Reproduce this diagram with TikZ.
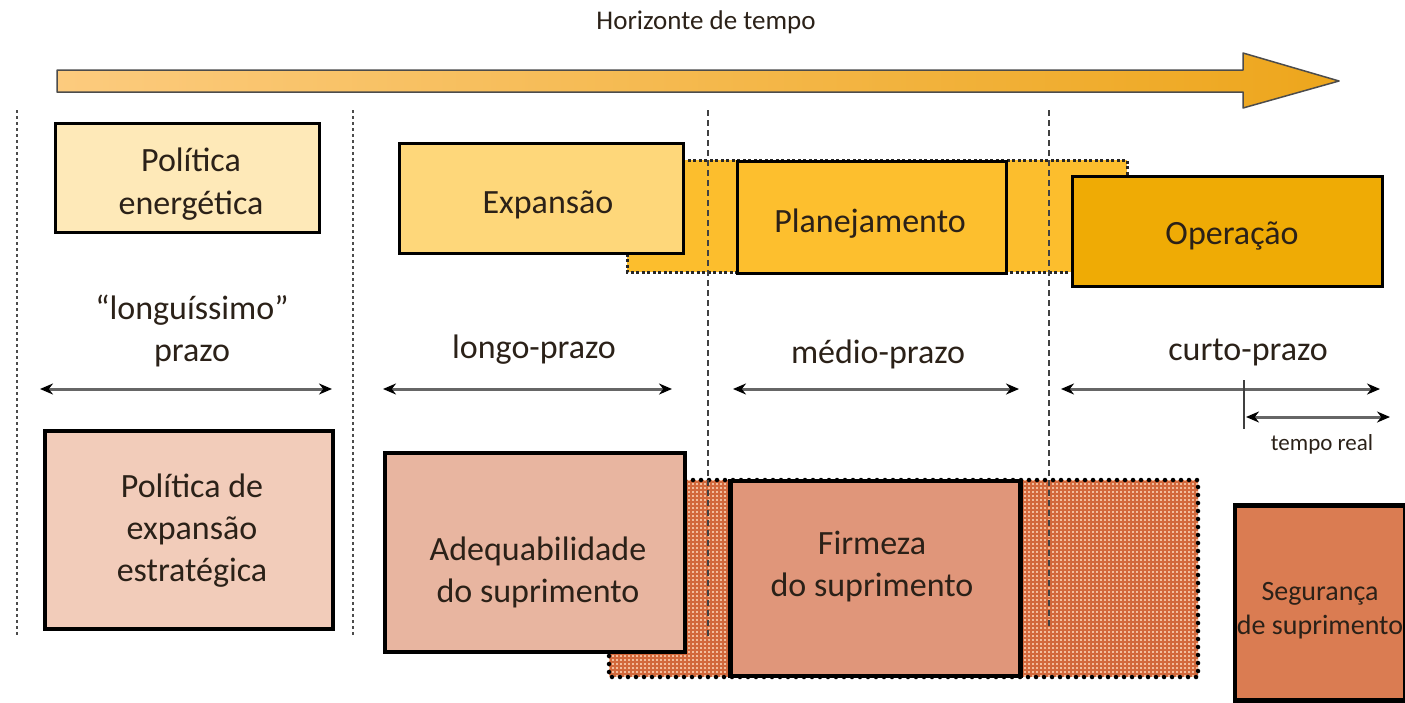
\documentclass[tikz,border=0pt]{standalone}
\usepackage{fontspec}
\setmainfont{Carlito}
\usetikzlibrary{arrows.meta}
\definecolor{txt}{HTML}{2B2118}
\definecolor{cPE}{HTML}{FEE9B8}
\definecolor{cEX}{HTML}{FED77A}
\definecolor{cBG}{HTML}{FCBE2D}
\definecolor{cPL}{HTML}{FDBF2E}
\definecolor{cOP}{HTML}{EFAB05}
\definecolor{cPX}{HTML}{F2CCBA}
\definecolor{cAD}{HTML}{E8B5A0}
\definecolor{cFI}{HTML}{E0967A}
\definecolor{cSE}{HTML}{DA7C52}
\definecolor{cHB}{HTML}{F2BC9C}
\definecolor{cHL}{HTML}{D2683B}
\definecolor{arL}{HTML}{FCCB7E}
\definecolor{arR}{HTML}{EDA61C}
\tikzset{
  topbox/.style={draw=black, line width=3pt, inner sep=0pt},
  botbox/.style={draw=black, line width=4.5pt, inner sep=0pt},
  lbl/.style={text=txt, align=center, inner sep=0pt, font=\fontsize{34}{42}\selectfont},
  sep/.style={draw=black!70, line width=2.5pt, dash pattern=on 3pt off 3pt},
  sepd/.style={draw=black!75, line width=2pt, dash pattern=on 6pt off 4pt},
  span/.style={draw=black!60, line width=3pt, {Stealth[length=13pt,width=11pt,black]}-{Stealth[length=13pt,width=11pt,black]}},
}
\begin{document}
\begin{tikzpicture}[x=1pt,y=-1pt]
\useasboundingbox (0,0) rectangle (1405,702);
% title
\node[text=txt, font=\fontsize{27}{30}\selectfont] (title) at (706,22) {Horizonte de tempo};
% big arrow
\shadedraw[left color=arL, right color=arR, draw=black!70, line width=1.5pt, line join=round]
  (57,70) -- (1243,70) -- (1243,53) -- (1339,81) -- (1243,108) -- (1243,92) -- (57,92) -- cycle;
% top background (dotted)
\fill[cBG] (627,160) rectangle (1127,272);
\draw[black!85, line width=3pt, dash pattern=on 3pt off 2.5pt] (627,160) rectangle (1127,272);
% bottom hatched background
\fill[cHB] (609,480) rectangle (1198,677);
\begin{scope}
\clip (609,480) rectangle (1198,677);
\foreach \i in {611,615,...,1199} {\draw[cHL, line width=1.5pt] (\i,480) -- (\i,677);}
\foreach \j in {482,486,...,677} {\draw[cHL, line width=1.5pt] (609,\j) -- (1198,\j);}
\end{scope}
\draw[black, line width=4.5pt, line cap=round, dash pattern=on 0pt off 8pt] (609,480) rectangle (1198,677);
% separators
\draw[sep] (17,110) -- (17,635);
\draw[sep] (353,110) -- (353,635);
\draw[sepd] (708,110) -- (708,640);
\draw[sepd] (1049,110) -- (1049,628);
% top boxes
\node[topbox, fill=cPE, minimum width=264pt, minimum height=109pt] (pe) at (187,177.5) {};
\node[topbox, fill=cEX, minimum width=284pt, minimum height=110pt] (ex) at (541,198) {};
\node[topbox, fill=cPL, minimum width=269pt, minimum height=112pt] (pl) at (871.5,217) {};
\node[topbox, fill=cOP, minimum width=310pt, minimum height=110pt] (op) at (1227,231) {};
\node[lbl, font=\fontsize{34}{43}\selectfont] (pet) at (191,184) {Política\\energética};
\node[lbl] (ext) at (548,205) {Expansão};
\node[lbl] (plt) at (870,224) {Planejamento};
\node[lbl] (opt) at (1232,236) {Operação};
% horizon labels
\node[lbl] (l1) at (192,331) {“longuíssimo”\\prazo};
\node[lbl] (l2) at (534,350) {longo-prazo};
\node[lbl] (l3) at (878,354) {médio-prazo};
\node[lbl] (l4) at (1248,352) {curto-prazo};
% span arrows
\coordinate (a1l) at (40,389); \coordinate (a1r) at (332,389);
\coordinate (a2l) at (383,389); \coordinate (a2r) at (672,389);
\coordinate (a3l) at (733,389); \coordinate (a3r) at (1019,389);
\coordinate (a4l) at (1061,389); \coordinate (a4r) at (1380,389);
\coordinate (t1) at (1244,380); \coordinate (t2) at (1244,429);
\coordinate (a5l) at (1246,417); \coordinate (a5r) at (1390,417);
\draw[span] (a1l) -- (a1r);
\draw[span] (a2l) -- (a2r);
\draw[span] (a3l) -- (a3r);
\draw[span] (a4l) -- (a4r);
\draw[black!75, line width=2.5pt] (t1) -- (t2);
\draw[span] (a5l) -- (a5r);
\node[text=txt, font=\fontsize{23}{26}\selectfont] (tr) at (1322,444) {tempo real};
% bottom boxes
\node[botbox, fill=cPX, minimum width=288pt, minimum height=198pt] (px) at (189,530) {};
\node[botbox, fill=cAD, minimum width=300pt, minimum height=199pt] (ad) at (535,552.5) {};
\node[botbox, fill=cFI, minimum width=290pt, minimum height=195pt] (fi) at (875.5,578.5) {};
\node[botbox, fill=cSE, minimum width=170pt, minimum height=195pt] (se) at (1320,603) {};
\node[lbl] (pxt) at (192,531) {Política de\\expansão\\estratégica};
\node[lbl] (adt) at (538,572) {Adequabilidade\\do suprimento};
\node[lbl] (fit) at (872,567) {Firmeza\\do suprimento};
\node[text=txt, align=center, inner sep=0pt, font=\fontsize{28}{34}\selectfont] (setxt) at (1320,611) {Segurança\\de suprimento};
\end{tikzpicture}
\end{document}
